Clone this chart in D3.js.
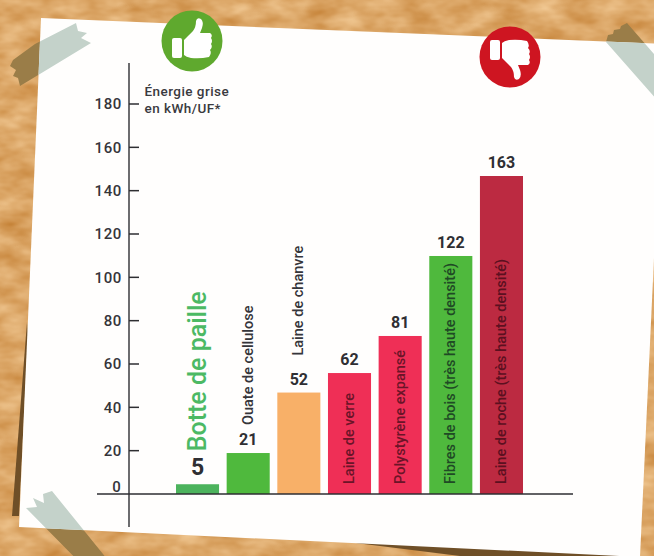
<!DOCTYPE html>
<html lang="fr">
<head>
<meta charset="utf-8">
<title>Énergie grise des isolants</title>
<script src="https://cdn.jsdelivr.net/npm/d3@7"></script>
<style>
  html, body { margin: 0; padding: 0; background: #dba566; }
  svg { display: block; font-family: Roboto, "Noto Sans", sans-serif; }
</style>
</head>
<body>
<div id="chart"></div>
<script>
// Insulation materials and their embodied energy, in kWh per functional unit
const materials = [
  "Botte de paille",
  "Ouate de cellulose",
  "Laine de chanvre",
  "Laine de verre",
  "Polystyrène expansé",
  "Fibres de bois (très haute densité)",
  "Laine de roche (très haute densité)"
];
const energyValues = [5, 21, 52, 62, 81, 122, 163];
const axisTicks = [0, 20, 40, 60, 80, 100, 120, 140, 160, 180];
const axisTitle = ["Énergie grise", "en kWh/UF*"];

// Bar, name and value appearance, one entry per material
const barColors = ["#4cb35d", "#4fb93d", "#f8b068", "#ef2f56", "#ef2f56", "#4fb93d", "#bc2a41"];
const nameColors = ["#4cb964", "#35353a", "#35353a", "#6b1428", "#6b1428", "#1f4a25", "#5c1020"];

const width = 654, height = 556;
const baseY = 494;

const svg = d3.select("#chart").append("svg")
  .attr("width", width)
  .attr("height", height);

const defs = svg.append("defs");

// Cork board grain
const cork = defs.append("filter")
  .attr("id", "cork")
  .attr("x", 0).attr("y", 0).attr("width", "100%").attr("height", "100%")
  .attr("color-interpolation-filters", "sRGB");
cork.append("feTurbulence")
  .attr("type", "fractalNoise")
  .attr("baseFrequency", "0.03 0.06")
  .attr("numOctaves", 3)
  .attr("seed", 7);
cork.append("feColorMatrix")
  .attr("type", "matrix")
  .attr("values", "0.2 0 0 0 0.76  0.32 0 0 0 0.49  0.42 0 0 0 0.19  0 0 0 0 1");

const paperOutline = [[41, 18], [664, 44], [640, 557], [19, 527]];
const line = d3.line();

defs.append("clipPath").attr("id", "on-paper")
  .append("path").attr("d", line(paperOutline) + "Z");

// Strips of tape holding the sheet at three corners
const tapes = [
  [[76, 23], [78, 31], [87, 33], [81, 38], [91, 43], [20, 86], [18, 78], [13, 76], [16, 70], [10, 66], [13, 60], [35, 44]],
  [[606, 42], [608, 35], [613, 34], [614, 30], [620, 29], [621, 26], [627, 23], [680, 84], [680, 126]],
  [[26, 508], [37, 507], [33, 498], [44, 503], [43, 494], [52, 491], [120, 575], [92, 575]]
];

svg.append("rect")
  .attr("width", width).attr("height", height)
  .attr("filter", "url(#cork)");

// Cast shadows along the left and bottom of the sheet
const shadows = [
  [[27, 322], [28, 335], [19, 516], [12, 516]],
  [[340, 541], [640, 555], [640, 556], [460, 556]]
];
svg.append("g").selectAll("path").data(shadows).join("path")
  .attr("d", d => line(d) + "Z")
  .attr("fill", "#6f4f27");

svg.append("g").selectAll("path").data(tapes).join("path")
  .attr("d", d => line(d) + "Z")
  .attr("fill", "#9a7d48");

svg.append("path")
  .attr("d", line(paperOutline) + "Z")
  .attr("fill", "#fffefd");

svg.append("g").attr("clip-path", "url(#on-paper)")
  .selectAll("path").data(tapes).join("path")
  .attr("d", d => line(d) + "Z")
  .attr("fill", "#c4d2ca");

// Printed scale: 20 units every 43.3 px. Bars are drawn to their own scale,
// where 163 reaches 318 px, and sit a little below the printed graduations.
const axisScale = d3.scaleLinear().domain([0, 180]).range([baseY, 104]);
const barScale = d3.scaleLinear().domain([0, 163]).range([baseY, 176]);
const x = d3.scaleBand().domain(materials).range([176, 523]).paddingInner(0.15).paddingOuter(0);

// Bars
svg.append("g").selectAll("rect").data(materials).join("rect")
  .attr("x", d => x(d))
  .attr("width", x.bandwidth())
  .attr("y", (d, i) => barScale(energyValues[i]))
  .attr("height", (d, i) => baseY - barScale(energyValues[i]))
  .attr("fill", (d, i) => barColors[i]);

// Axes: graduations run to the right of the vertical rule, numbers sit to its left
const axisColor = "#2e2e32";
const yAxis = svg.append("g")
  .attr("transform", "translate(129,0)")
  .call(d3.axisRight(axisScale).tickValues(axisTicks).tickSize(0));
yAxis.select(".domain").remove();
yAxis.selectAll("line").remove();
yAxis.selectAll("text")
  .attr("x", -7)
  .attr("text-anchor", "end")
  .attr("fill", "#35353a")
  .attr("font-family", "Roboto, sans-serif")
  .attr("font-size", 15)
  .attr("font-weight", 500)
  .attr("letter-spacing", 0.6)
  .filter(d => d === 0)
  .attr("dy", "-0.17em")
  .attr("x", -7.5);

svg.append("g").selectAll("line").data(axisTicks.filter(d => d > 0)).join("line")
  .attr("x1", 129).attr("x2", 139)
  .attr("y1", d => axisScale(d)).attr("y2", d => axisScale(d))
  .attr("stroke", axisColor).attr("stroke-width", 1.5);

svg.append("line")
  .attr("x1", 129).attr("x2", 129).attr("y1", 63).attr("y2", 527)
  .attr("stroke", axisColor).attr("stroke-width", 1.4);
svg.append("line")
  .attr("x1", 97).attr("x2", 573).attr("y1", baseY).attr("y2", baseY)
  .attr("stroke", axisColor).attr("stroke-width", 1.3);

// Axis caption
svg.append("g").selectAll("text").data(axisTitle).join("text")
  .attr("x", 144.5)
  .attr("y", (d, i) => 95.7 + i * 17)
  .attr("fill", "#3a3a3f")
  .attr("font-size", 13.5)
  .attr("font-weight", 500)
  .attr("letter-spacing", 0.45)
  .text(d => d);

// Value above each bar; the straw bale figure is set larger
svg.append("g").selectAll("text").data(energyValues).join("text")
  .attr("x", (d, i) => x(materials[i]) + x.bandwidth() / 2)
  .attr("y", (d, i) => barScale(d) - (i === 0 ? 9 : 8))
  .attr("text-anchor", "middle")
  .attr("fill", "#2f2f33")
  .attr("font-size", (d, i) => i === 0 ? 23 : 16)
  .attr("font-weight", 700)
  .text(d => d);

// Rotated material names: inside the tall bars, above the short ones
const nameStart = (i) => {
  const v = energyValues[i];
  if (i >= 3) return baseY - 10;
  const digitTop = barScale(v) - 8 - 12;
  return digitTop - [8 + 5, 8, 17][i];
};
const nameSize = [25, 14.5, 14.5, 14.5, 14.5, 14.5, 14.5];
svg.append("g").selectAll("text").data(materials).join("text")
  .attr("transform", (d, i) =>
    `translate(${x(d) + x.bandwidth() / 2 + (i === 0 ? 8 : 4.5)},${nameStart(i)}) rotate(-90)`)
  .attr("fill", (d, i) => nameColors[i])
  .attr("font-size", (d, i) => nameSize[i])
  .attr("font-weight", 500)
  .text(d => d);

// Thumb badges above the best and worst ends of the scale
const thumb = "M-8 -1 L1 -10 Q4 -14 4 -20 Q5 -24 9 -22 Q12 -19 10 -13 L8 -8 L18 -8 Q21 -6 19 -3 Q21 0 19 3 Q21 6 18 9 Q20 12 17 16 Q8 18 -1 17 Q-6 16 -8 14 Z";
const badges = [
  { cx: 192, cy: 41, fill: "#5fa92e", flip: 1 },
  { cx: 510, cy: 57, fill: "#ce1521", flip: -1 }
];
const badge = svg.append("g").selectAll("g").data(badges).join("g")
  .attr("transform", d => `translate(${d.cx},${d.cy})`);
badge.append("circle").attr("r", 30.5).attr("fill", d => d.fill);
badge.append("path")
  .attr("d", thumb)
  .attr("transform", d => `scale(1,${d.flip})`)
  .attr("fill", "#fff");
badge.append("rect")
  .attr("x", -20).attr("y", -3).attr("width", 10).attr("height", 20).attr("rx", 2)
  .attr("transform", d => `scale(1,${d.flip})`)
  .attr("fill", "#fff");
</script>
</body>
</html>
